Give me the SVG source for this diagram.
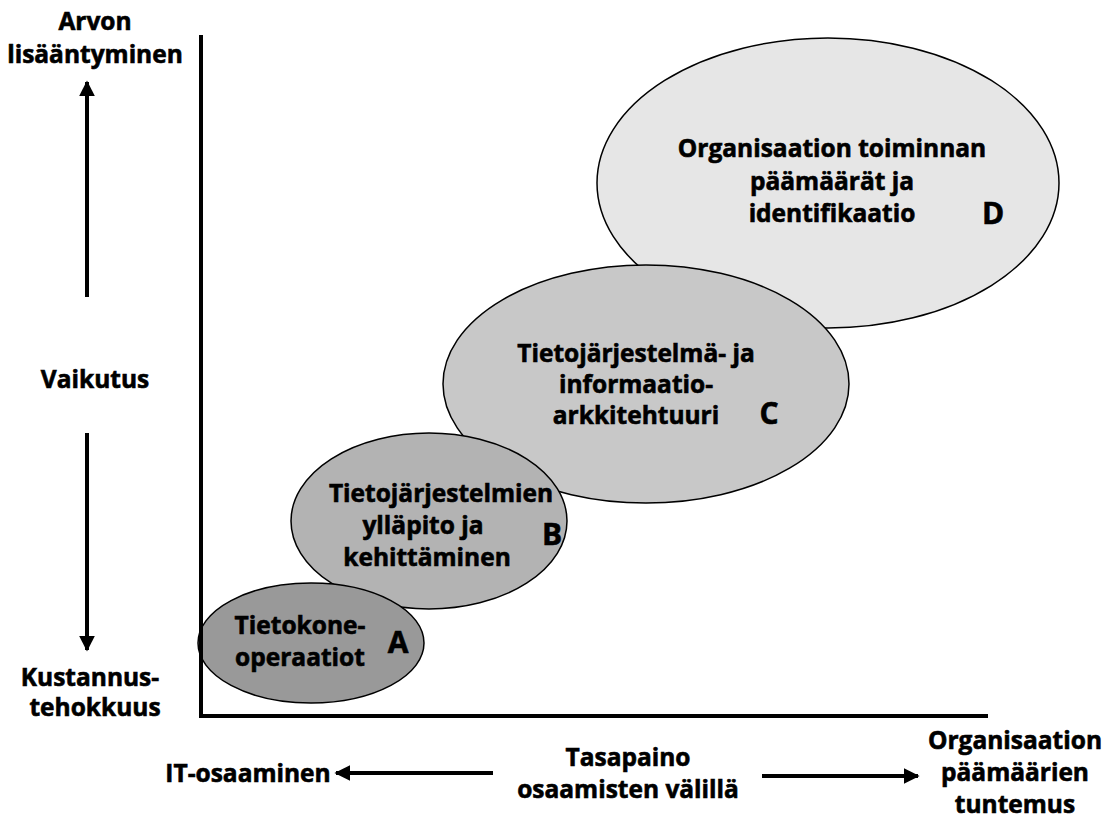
<svg xmlns="http://www.w3.org/2000/svg" width="1106" height="818" viewBox="0 0 1106 818">
  <style>
    .lbl { font-family: "Open Sans", "Liberation Sans", sans-serif; font-weight: bold; font-size: 24.5px; fill: #000; stroke: #000; stroke-width: 0.6; text-anchor: middle; }
    .big { font-family: "Open Sans", "Liberation Sans", sans-serif; font-weight: bold; font-size: 30px; fill: #000; stroke: #000; stroke-width: 0.6; text-anchor: middle; }
    .node { stroke: #000; stroke-width: 1.5; }
    .axis { stroke: #000; stroke-width: 4; fill: none; }
    .arrow { stroke: #000; stroke-width: 4; fill: none; marker-end: url(#head); }
  </style>
  <defs>
    <marker id="head" viewBox="0 0 10 10" refX="9" refY="5" markerWidth="4" markerHeight="4" orient="auto" markerUnits="strokeWidth">
      <path d="M0,0 L10,5 L0,10 z" fill="#000"/>
    </marker>
  </defs>
  <rect width="1106" height="818" fill="#fff"/>

  <!-- bubbles, back to front -->
  <g id="node-d">
    <ellipse class="node" cx="828" cy="183" rx="231" ry="145" fill="#e6e6e6"/>
    <text class="lbl" x="832" y="157">Organisaation toiminnan</text>
    <text class="lbl" x="832" y="190">päämäärät ja</text>
    <text class="lbl" x="832" y="222">identifikaatio</text>
    <text class="big" x="993" y="224">D</text>
  </g>
  <g id="node-c">
    <ellipse class="node" cx="646" cy="384" rx="203" ry="119" fill="#c8c8c8"/>
    <text class="lbl" x="636" y="362">Tietojärjestelmä- ja</text>
    <text class="lbl" x="636" y="393">informaatio-</text>
    <text class="lbl" x="636" y="424">arkkitehtuuri</text>
    <text class="big" x="769" y="424">C</text>
  </g>
  <g id="node-b">
    <ellipse class="node" cx="429" cy="521" rx="138" ry="88" fill="#b3b3b3"/>
    <text class="lbl" x="441" y="502">Tietojärjestelmien</text>
    <text class="lbl" x="423" y="534">ylläpito ja</text>
    <text class="lbl" x="427" y="566">kehittäminen</text>
    <text class="big" x="552" y="545">B</text>
  </g>
  <g id="node-a">
    <ellipse class="node" cx="311" cy="643" rx="113" ry="60" fill="#999999"/>
    <text class="lbl" x="300" y="634">Tietokone-</text>
    <text class="lbl" x="300" y="666">operaatiot</text>
    <text class="big" x="398" y="653">A</text>
  </g>

  <!-- axes and direction arrows -->
  <g id="connectors">
    <polyline class="axis" points="201,35 201,716 988,716"/>
    <line class="arrow" x1="87" y1="297" x2="87" y2="82"/>
    <line class="arrow" x1="87" y1="433" x2="87" y2="650"/>
    <line class="arrow" x1="493" y1="773" x2="336" y2="773"/>
    <line class="arrow" x1="762" y1="776" x2="918" y2="776"/>
  </g>

  <!-- axis labels -->
  <g id="label-value">
    <text class="lbl" x="95" y="30">Arvon</text>
    <text class="lbl" x="95" y="63">lisääntyminen</text>
  </g>
  <g id="label-impact">
    <text class="lbl" x="95" y="388">Vaikutus</text>
  </g>
  <g id="label-cost">
    <text class="lbl" x="90" y="686">Kustannus-</text>
    <text class="lbl" x="95" y="716">tehokkuus</text>
  </g>
  <g id="label-it">
    <text class="lbl" x="248" y="782">IT-osaaminen</text>
  </g>
  <g id="label-balance">
    <text class="lbl" x="628" y="766">Tasapaino</text>
    <text class="lbl" x="628" y="798">osaamisten välillä</text>
  </g>
  <g id="label-org">
    <text class="lbl" x="1015" y="749">Organisaation</text>
    <text class="lbl" x="1015" y="781">päämäärien</text>
    <text class="lbl" x="1015" y="813">tuntemus</text>
  </g>
</svg>
